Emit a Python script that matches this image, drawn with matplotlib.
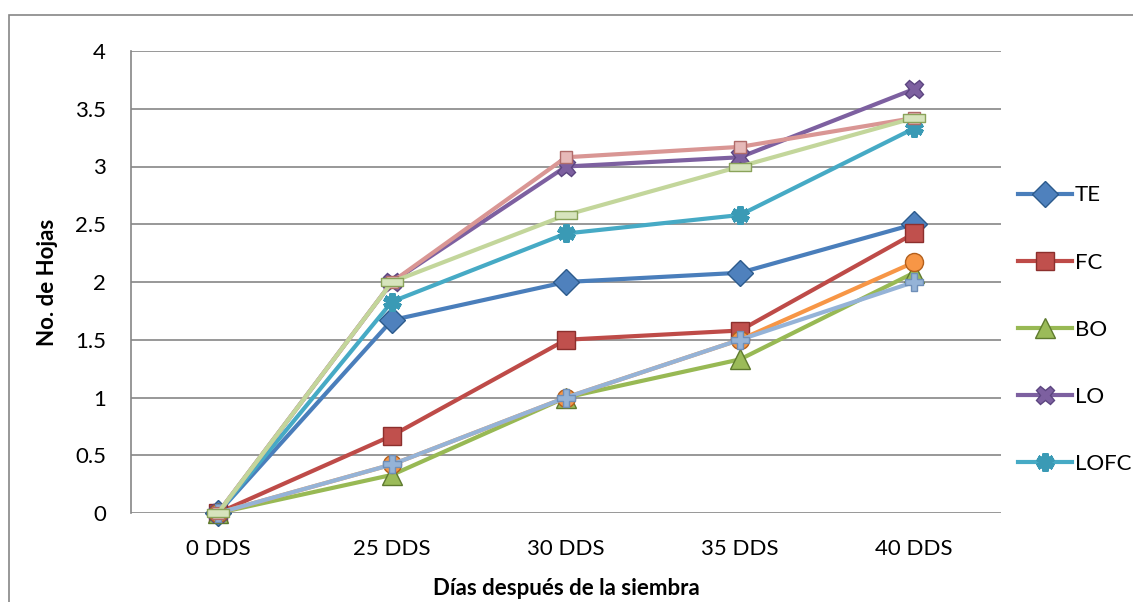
import matplotlib
matplotlib.use('Agg')
import matplotlib.pyplot as plt
from matplotlib.patches import Rectangle

plt.rcParams['font.family'] = ['Lato', 'DejaVu Sans']

categories = ['0 DDS', '25 DDS', '30 DDS', '35 DDS', '40 DDS']

te = [0, 1.67, 2.0, 2.08, 2.5]
fc = [0, 0.67, 1.5, 1.58, 2.42]
bo = [0, 0.33, 1.0, 1.33, 2.08]
lo = [0, 2.0, 3.0, 3.08, 3.67]
lofc = [0, 1.83, 2.42, 2.58, 3.33]
serie6 = [0, 0.42, 1.0, 1.5, 2.17]
serie7 = [0, 0.42, 1.0, 1.5, 2.0]
serie8 = [0, 2.0, 3.08, 3.17, 3.42]
serie9 = [0, 2.0, 2.58, 3.0, 3.42]

FS = 16

# (name, values, line colour, marker, marker face, marker edge, size, edge width, shown in legend)
series = [
    ('TE', te, '#4A7EBB', 'D', '#4F81BD', '#2C5A8C', 13, 1.0, True),
    ('FC', fc, '#BE4B48', 's', '#C0504D', '#8C2F2D', 13, 1.0, True),
    ('BO', bo, '#98B954', '^', '#9BBB59', '#5E7A2E', 14, 1.0, True),
    ('LO', lo, '#7D60A0', 'X', '#7D60A0', '#5C4580', 13, 1.0, True),
    ('LOFC', lofc, '#46AAC5', (6, 2, 0), '#46AAC5', '#3A9AB5', 13, 4.5, True),
    ('Serie 6', serie6, '#F79646', 'o', '#F79646', '#B35F1C', 13, 1.0, False),
    ('Serie 7', serie7, '#95B3D7', 'P', '#95B3D7', '#6F8FB8', 13, 1.0, False),
    ('Serie 8', serie8, '#D99694', 's', '#E6B9B8', '#B06C6A', 9, 1.0, False),
    ('Serie 9', serie9, '#C3D69B', 's', '#D7E4BD', '#8AA35A', 9, 1.0, False),
]

fig = plt.figure(figsize=(11.33, 6.02), dpi=100)
ax = fig.add_axes([131 / 1133, 1 - 513 / 602, 870 / 1133, 462 / 602])

x = list(range(len(categories)))
handles = []
for i, (name, vals, col, mk, face, edge, ms, mew, shown) in enumerate(series):
    if name == 'Serie 9':
        # wide dash-like marker
        mk = [(-1.6, -0.6), (1.6, -0.6), (1.6, 0.6), (-1.6, 0.6), (-1.6, -0.6)]
        ms = 16
    line, = ax.plot(x, vals, color=col, lw=3.0, marker=mk, markersize=ms,
                    markerfacecolor=face, markeredgecolor=edge, markeredgewidth=mew,
                    label=name, zorder=3 + i, clip_on=False)
    if shown:
        handles.append(line)

ax.set_xlim(-0.5, 4.5)
ax.set_ylim(0, 4)
ax.set_yticks([0, 0.5, 1, 1.5, 2, 2.5, 3, 3.5, 4])
ax.set_yticklabels(['0', '0.5', '1', '1.5', '2', '2.5', '3', '3.5', '4'])
ax.set_xticks(x)
ax.set_xticklabels(categories)
ax.tick_params(axis='both', length=0, labelsize=FS, colors='black')
ax.tick_params(axis='y', pad=18)
ax.tick_params(axis='x', pad=18.5)
ax.grid(axis='y', color='#868686', lw=1.2)
ax.set_axisbelow(True)
for side in ['top', 'right', 'bottom']:
    ax.spines[side].set_visible(False)
ax.spines['left'].set_color('#868686')
ax.spines['left'].set_linewidth(1.2)

ax.set_ylabel('No. de Hojas', fontsize=FS, fontweight='bold', labelpad=12)
ax.set_xlabel('Días después de la siembra', fontsize=FS, fontweight='bold', labelpad=14)

ax.legend(handles=handles, loc='upper left', bbox_to_anchor=(1.007, 0.733),
          frameon=False, fontsize=FS, handlelength=2.4, handletextpad=0.15,
          labelspacing=2.12, borderpad=0)

# outer chart border (cut off at right and bottom)
fig.patches.append(Rectangle((8.5 / 1133, -0.1), 1.2, (1 - 15 / 602) + 0.1,
                             transform=fig.transFigure, fill=False,
                             edgecolor='#868686', lw=1.2))

fig.savefig('out.png', dpi=100)
